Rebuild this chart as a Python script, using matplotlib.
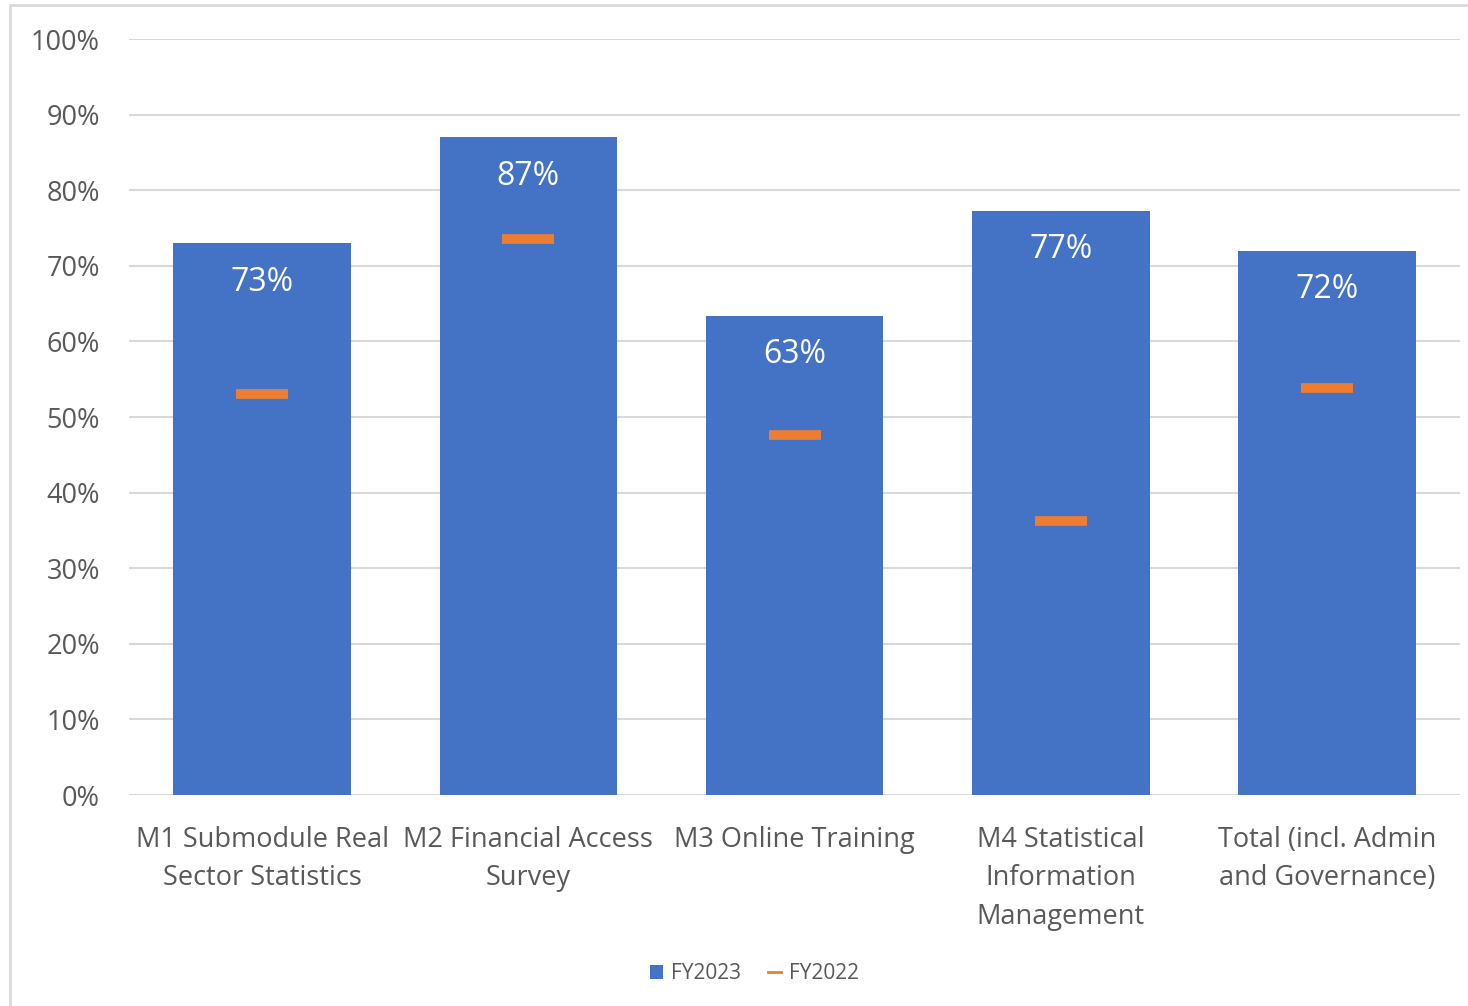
import matplotlib.pyplot as plt
from matplotlib.lines import Line2D
from matplotlib.patches import Patch, Rectangle

# Data
categories = ['M1 Submodule Real\nSector Statistics', 'M2 Financial Access\nSurvey',
              'M3 Online Training', 'M4 Statistical\nInformation\nManagement',
              'Total (incl. Admin\nand Governance)']
fy2023 = [0.73, 0.87, 0.634, 0.773, 0.72]
fy2022 = [0.53, 0.735, 0.476, 0.362, 0.538]
labels_2023 = ['73%', '87%', '63%', '77%', '72%']

blue = '#4472C4'
orange = '#ED7D31'
grey = '#595959'
font = 'Open Sans'

fig = plt.figure(figsize=(14.68, 10.06), dpi=100)
ax = fig.add_axes([0.0879, 0.2097, 0.9067, 0.7515])

# chart border
fig.patches.append(Rectangle((0.007, -0.01), 1.1, 1.005, transform=fig.transFigure,
                             fill=False, edgecolor='#d9d9d9', linewidth=2))

x = list(range(len(categories)))
ax.bar(x, fy2023, width=0.667, color=blue, zorder=2)
ax.plot(x, fy2022, linestyle='none', marker='_', markersize=38, markeredgewidth=7,
        color=orange, zorder=3)

for xi, v, lab in zip(x, fy2023, labels_2023):
    ax.annotate(lab, (xi, v), xytext=(0, -28), textcoords='offset points',
                ha='center', va='center', color='white', fontsize=23, family=font)

ax.set_xlim(-0.5, 4.5)
ax.set_ylim(0, 1.0)
ax.set_yticks([i / 10 for i in range(11)])
ax.set_yticklabels([f'{i * 10}%' for i in range(11)], family=font, fontsize=19.5, color=grey)
ax.set_xticks(x)
ax.set_xticklabels(categories, family=font, fontsize=19.5, color=grey, linespacing=1.5)
ax.tick_params(axis='both', length=0)
ax.tick_params(axis='y', pad=21)
ax.tick_params(axis='x', pad=22)
ax.yaxis.grid(True, color='#d9d9d9', linewidth=1.5, zorder=0)
ax.set_axisbelow(True)
for s in ax.spines.values():
    s.set_visible(False)

handles = [Patch(facecolor=blue, label='FY2023'),
           Line2D([0], [0], color=orange, linewidth=2, label='FY2022')]
fig.legend(handles=handles, loc='center', bbox_to_anchor=(0.514, 0.032), ncol=2,
           frameon=False, prop={'family': font, 'size': 15}, labelcolor=grey,
           handlelength=0.6, handleheight=0.6, columnspacing=1.3, handletextpad=0.4)

fig.savefig('out.png', dpi=100)
